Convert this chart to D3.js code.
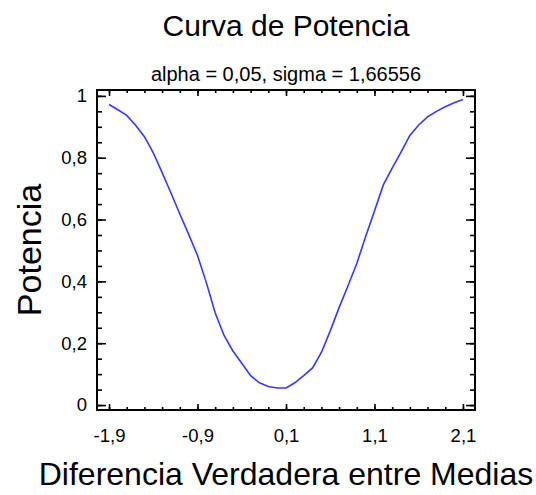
<!DOCTYPE html>
<html>
<head>
<meta charset="utf-8">
<script src="https://cdn.jsdelivr.net/npm/d3@7"></script>
<style>
  body { margin: 0; background: #fff; }
  svg { display: block; }
</style>
</head>
<body>
<div id="chart"></div>
<script>
// power curve values
var diffs = [-1.9, -1.8, -1.7, -1.6, -1.5, -1.4, -1.3, -1.2, -1.1, -1.0,
             -0.9, -0.8, -0.7, -0.6, -0.5, -0.4, -0.3, -0.2, -0.1, 0.0,
              0.1,  0.2,  0.3,  0.4,  0.5,  0.6,  0.7,  0.8,  0.9, 1.0,
              1.1,  1.2,  1.3,  1.4,  1.5,  1.6,  1.7,  1.8,  1.9, 2.0, 2.1];
var power = [0.972, 0.955, 0.937, 0.905, 0.868, 0.816, 0.752, 0.686, 0.618, 0.552,
             0.484, 0.396, 0.298, 0.225, 0.175, 0.135, 0.095, 0.072, 0.060, 0.055,
             0.055, 0.072, 0.095, 0.120, 0.170, 0.240, 0.315, 0.385, 0.458, 0.545,
             0.628, 0.712, 0.766, 0.818, 0.872, 0.906, 0.932, 0.950, 0.965, 0.978, 0.988];
var xTicks = [-1.9, -0.9, 0.1, 1.1, 2.1];
var yTicks = [0, 0.2, 0.4, 0.6, 0.8, 1];

var title = 'Curva de Potencia';
var subtitle = 'alpha = 0,05, sigma = 1,66556';
var xTitle = 'Diferencia Verdadera entre Medias';
var yTitle = 'Potencia';

var width = 536, height = 495;
var plotLeft = 97, plotRight = 475, plotTop = 90, plotBottom = 410;
var mainFont = '"Liberation Sans", Arial, sans-serif';

var svg = d3.select('#chart').append('svg')
    .attr('width', width)
    .attr('height', height);

var x = d3.scaleLinear().domain([-2.036, 2.236]).range([plotLeft, plotRight]);
var y = d3.scaleLinear().domain([-0.016, 1.019]).range([plotBottom, plotTop]);

function fmt(d) {
    return String(+d.toFixed(1)).replace('.', ',');
}

var xMinor = d3.range(0, 21).map(function(i) { return +(-1.9 + i * 0.2).toFixed(2); });
var yMinor = d3.range(0, 21).map(function(i) { return +(i * 0.05).toFixed(2); });

// minor ticks, all four sides, pointing inward
svg.append('g').attr('transform', 'translate(0,' + plotBottom + ')')
    .call(d3.axisBottom(x).tickValues(xMinor).tickSize(-3).tickFormat(''));
svg.append('g').attr('transform', 'translate(0,' + plotTop + ')')
    .call(d3.axisTop(x).tickValues(xMinor).tickSize(-3).tickFormat(''));
svg.append('g').attr('transform', 'translate(' + plotLeft + ',0)')
    .call(d3.axisLeft(y).tickValues(yMinor).tickSize(-5).tickFormat(''));
svg.append('g').attr('transform', 'translate(' + plotRight + ',0)')
    .call(d3.axisRight(y).tickValues(yMinor).tickSize(-5).tickFormat(''));

// major ticks with labels
svg.append('g').attr('transform', 'translate(0,' + plotBottom + ')')
    .call(d3.axisBottom(x).tickValues(xTicks).tickSize(-6).tickPadding(19).tickFormat(fmt));
svg.append('g').attr('transform', 'translate(0,' + plotTop + ')')
    .call(d3.axisTop(x).tickValues(xTicks).tickSize(-6).tickFormat(''));
svg.append('g').attr('transform', 'translate(' + plotLeft + ',0)')
    .call(d3.axisLeft(y).tickValues(yTicks).tickSize(-9).tickPadding(10).tickFormat(fmt));
svg.append('g').attr('transform', 'translate(' + plotRight + ',0)')
    .call(d3.axisRight(y).tickValues(yTicks).tickSize(-9).tickFormat(''));

svg.selectAll('.domain').remove();
svg.selectAll('.tick line').attr('stroke', '#000').attr('stroke-width', 1.6);
svg.selectAll('.tick text')
    .attr('fill', '#000')
    .style('font-family', mainFont)
    .style('font-size', '18.5px');

// frame
svg.append('rect')
    .attr('x', plotLeft).attr('y', plotTop)
    .attr('width', plotRight - plotLeft).attr('height', plotBottom - plotTop)
    .attr('fill', 'none')
    .attr('stroke', '#000')
    .attr('stroke-width', 2);

// curve
var line = d3.line()
    .x(function(d, i) { return x(diffs[i]); })
    .y(function(d) { return y(d); });

svg.append('path')
    .datum(power)
    .attr('d', line)
    .attr('fill', 'none')
    .attr('stroke', '#3636ff')
    .attr('stroke-width', 1.6);

// texts
var cx = (plotLeft + plotRight) / 2;
svg.append('text').text(title)
    .attr('x', cx).attr('y', 36)
    .attr('text-anchor', 'middle')
    .style('font-family', mainFont).style('font-size', '30px');

svg.append('text').text(subtitle)
    .attr('x', cx).attr('y', 81)
    .attr('text-anchor', 'middle')
    .style('font-family', mainFont).style('font-size', '20px');

svg.append('text').text(xTitle)
    .attr('x', cx).attr('y', 485)
    .attr('text-anchor', 'middle')
    .style('font-family', mainFont).style('font-size', '32px');

svg.append('text').text(yTitle)
    .attr('transform', 'translate(41,' + ((plotTop + plotBottom) / 2) + ') rotate(-90)')
    .attr('text-anchor', 'middle')
    .style('font-family', mainFont).style('font-size', '34px');
</script>
</body>
</html>
